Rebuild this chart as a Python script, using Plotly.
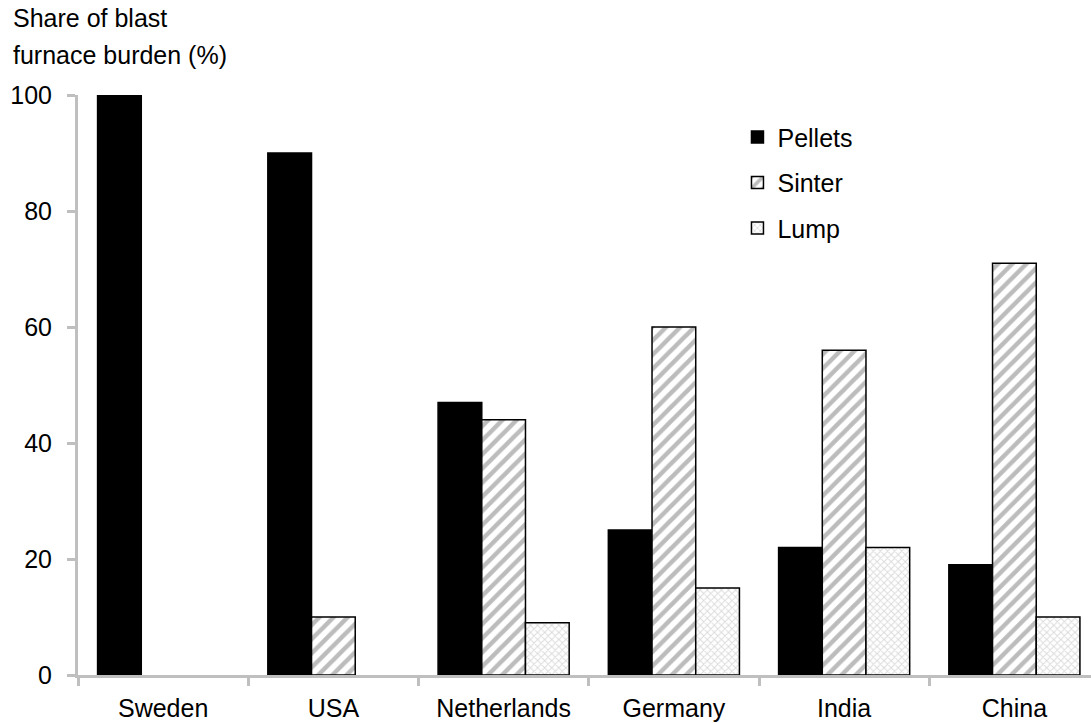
import plotly.graph_objects as go

countries = ["Sweden", "USA", "Netherlands", "Germany", "India", "China"]
pellets = [100, 90, 47, 25, 22, 19]
sinter = [0, 10, 44, 60, 56, 71]
lump = [0, 0, 9, 15, 22, 10]

FONT = "Liberation Sans, Arial, sans-serif"
AXIS_GREY = "#bfbfbf"
FS = 25


def drawn(values):
    # empty categories get no bar at all (no outline sitting on the axis)
    return [v if v else None for v in values]


fig = go.Figure()
fig.add_trace(go.Bar(
    name="Pellets", x=countries, y=drawn(pellets), legendgroup="p",
    marker=dict(color="black", line=dict(color="black", width=1.5)),
))
fig.add_trace(go.Bar(
    name="Sinter", x=countries, y=drawn(sinter), legendgroup="s",
    marker=dict(
        color="white", line=dict(color="black", width=1.5),
        pattern=dict(shape="/", fgcolor="#7a7a7a", bgcolor="white", size=10, solidity=0.45),
    ),
))
fig.add_trace(go.Bar(
    name="Lump", x=countries, y=drawn(lump), legendgroup="l",
    marker=dict(
        color="white", line=dict(color="black", width=1.5),
        pattern=dict(shape="x", fgcolor="#b5b5b5", bgcolor="white", size=5, solidity=0.35),
    ),
))

fig.update_layout(
    width=1091, height=723,
    margin=dict(l=78, r=0, t=95, b=48),
    plot_bgcolor="white", paper_bgcolor="white",
    font=dict(family=FONT, size=FS, color="black"),
    barmode="group", bargap=0.23, bargroupgap=0,
    showlegend=True,
    legend=dict(
        x=0.651, y=0.967, xanchor="left", yanchor="top",
        font=dict(size=FS), tracegroupgap=10, itemwidth=30,
        bgcolor="rgba(0,0,0,0)",
    ),
    xaxis=dict(
        range=[-0.5, 5.45],
        showline=True, linecolor=AXIS_GREY, linewidth=3,
        ticks="outside", tickson="boundaries", ticklen=8, tickwidth=3, tickcolor=AXIS_GREY,
        showgrid=False, tickfont=dict(size=FS), automargin=False, ticklabelstandoff=9,
    ),
    yaxis=dict(
        range=[0, 100], tickvals=[0, 20, 40, 60, 80, 100],
        showline=True, linecolor=AXIS_GREY, linewidth=3,
        ticks="outside", ticklen=8, tickwidth=3, tickcolor=AXIS_GREY,
        showgrid=False, zeroline=False, tickfont=dict(size=FS), automargin=False,
        ticklabelstandoff=10,
    ),
    annotations=[
        dict(text=line, xref="paper", yref="paper", x=-0.066, y=1.0, yshift=shift,
             xanchor="left", yanchor="middle", align="left", showarrow=False,
             font=dict(size=FS))
        for line, shift in [("Share of blast", 77), ("furnace burden (%)", 40)]
    ],
)

fig.write_html("out.html")
